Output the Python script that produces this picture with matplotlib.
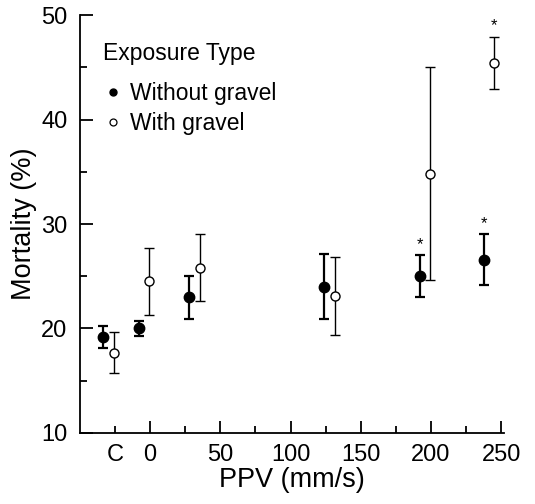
import numpy as np
import matplotlib.pyplot as plt
from matplotlib.ticker import FixedLocator, FixedFormatter
from matplotlib.lines import Line2D

plt.rcParams['font.family'] = ['Liberation Sans', 'DejaVu Sans']

# x = -25 is the control group ("C")
x_without = [-33.5, -8, 28, 124, 192, 238]
y_without = [19.2, 20.0, 23.0, 24.0, 25.0, 26.6]
e_without = [1.05, 0.7, 2.05, 3.1, 2.0, 2.4]

x_with = [-26, -0.5, 35.5, 132, 199.5, 245]
y_with = [17.7, 24.5, 25.8, 23.1, 34.8, 45.4]
e_with = [2.0, 3.2, 3.2, 3.7, 10.2, 2.5]

# points marked significant
star_x = [192, 238, 245]
star_top = [27.0, 29.0, 47.9]

fig = plt.figure(figsize=(5.35, 5.04), dpi=100)
ax = fig.add_axes([0.1495, 0.141, 0.7925, 0.829])

ax.errorbar(x_without, y_without, yerr=e_without, fmt='o', color='black',
            mfc='black', mec='black', ms=7.5, elinewidth=1.6, capsize=3.8,
            capthick=1.6, zorder=3)
ax.errorbar(x_with, y_with, yerr=e_with, fmt='o', color='black',
            mfc='white', mec='black', ms=6.5, mew=1.0, elinewidth=1.0,
            capsize=3.5, capthick=1.0, zorder=3)

for sx, st in zip(star_x, star_top):
    ax.annotate('*', (sx, st), xytext=(0, 2.5), textcoords='offset points',
                ha='center', va='bottom', fontsize=12)

ax.set_xlim(-50, 252)
ax.set_ylim(10, 50)

ax.xaxis.set_major_locator(FixedLocator([0, 50, 100, 150, 200, 250]))
ax.xaxis.set_minor_locator(FixedLocator([-25, 25, 75, 125, 175, 225]))
ax.xaxis.set_minor_formatter(FixedFormatter(['C', '', '', '', '', '']))
ax.yaxis.set_major_locator(FixedLocator([10, 20, 30, 40, 50]))
ax.yaxis.set_minor_locator(FixedLocator([15, 25, 35, 45]))

ax.tick_params(which='both', direction='in', labelsize=17, width=1.3)
ax.tick_params(which='major', length=9)
ax.tick_params(which='minor', length=5)
ax.tick_params(axis='x', which='both', pad=8)
ax.tick_params(axis='y', which='both', pad=9)

for s in ['top', 'right']:
    ax.spines[s].set_visible(False)
for s in ['left', 'bottom']:
    ax.spines[s].set_linewidth(1.3)

ax.set_xlabel('PPV (mm/s)', fontsize=19.5, labelpad=1)
ax.set_ylabel('Mortality (%)', fontsize=19.5, labelpad=3)

ax.text(0.054, 0.909, 'Exposure Type', transform=ax.transAxes,
        fontsize=16.5, ha='left', va='center')
handles = [
    Line2D([], [], ls='none', marker='o', ms=5, mfc='black', mec='black'),
    Line2D([], [], ls='none', marker='o', ms=5, mfc='white', mec='black',
           mew=0.9),
]
ax.legend(handles, ['Without gravel', 'With gravel'], loc='upper left',
          bbox_to_anchor=(0.034, 0.868), frameon=False, fontsize=16.5,
          handletextpad=0.45, handlelength=0.6, borderpad=0,
          labelspacing=0.3)

fig.savefig('out.png', dpi=100)
